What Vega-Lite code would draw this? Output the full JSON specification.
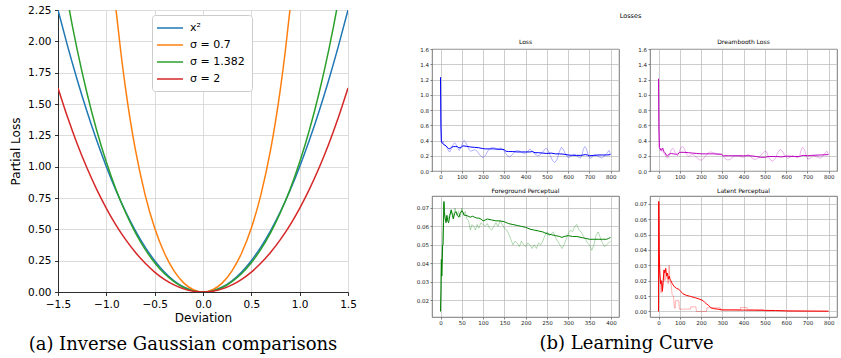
{
"$schema": "https://vega.github.io/schema/vega-lite/v6.json",
"padding": {"left": 9, "top": 5, "right": 0, "bottom": 0},
"spacing": 58,
"datasets": {
"curves": [
{"s":"x²","x":-1.5,"y":2.25},{"s":"x²","x":-1.4,"y":1.96},{"s":"x²","x":-1.3,"y":1.69},{"s":"x²","x":-1.2,"y":1.44},{"s":"x²","x":-1.1,"y":1.21},{"s":"x²","x":-1.0,"y":1.0},{"s":"x²","x":-0.9,"y":0.81},{"s":"x²","x":-0.8,"y":0.64},{"s":"x²","x":-0.7,"y":0.49},{"s":"x²","x":-0.6,"y":0.36},{"s":"x²","x":-0.5,"y":0.25},{"s":"x²","x":-0.4,"y":0.16},{"s":"x²","x":-0.3,"y":0.09},{"s":"x²","x":-0.2,"y":0.04},{"s":"x²","x":-0.1,"y":0.01},{"s":"x²","x":0,"y":0},
{"s":"x²","x":0.1,"y":0.01},{"s":"x²","x":0.2,"y":0.04},{"s":"x²","x":0.3,"y":0.09},{"s":"x²","x":0.4,"y":0.16},{"s":"x²","x":0.5,"y":0.25},{"s":"x²","x":0.6,"y":0.36},{"s":"x²","x":0.7,"y":0.49},{"s":"x²","x":0.8,"y":0.64},{"s":"x²","x":0.9,"y":0.81},{"s":"x²","x":1.0,"y":1.0},{"s":"x²","x":1.1,"y":1.21},{"s":"x²","x":1.2,"y":1.44},{"s":"x²","x":1.3,"y":1.69},{"s":"x²","x":1.4,"y":1.96},{"s":"x²","x":1.5,"y":2.25},
{"s":"σ = 0.7","x":-0.95,"y":2.652},{"s":"σ = 0.7","x":-0.9,"y":2.255},{"s":"σ = 0.7","x":-0.85,"y":1.913},{"s":"σ = 0.7","x":-0.8,"y":1.617},{"s":"σ = 0.7","x":-0.75,"y":1.36},{"s":"σ = 0.7","x":-0.7,"y":1.138},{"s":"σ = 0.7","x":-0.6,"y":0.779},{"s":"σ = 0.7","x":-0.5,"y":0.51},{"s":"σ = 0.7","x":-0.4,"y":0.311},{"s":"σ = 0.7","x":-0.3,"y":0.169},{"s":"σ = 0.7","x":-0.2,"y":0.073},{"s":"σ = 0.7","x":-0.1,"y":0.018},{"s":"σ = 0.7","x":0,"y":0},
{"s":"σ = 0.7","x":0.1,"y":0.018},{"s":"σ = 0.7","x":0.2,"y":0.073},{"s":"σ = 0.7","x":0.3,"y":0.169},{"s":"σ = 0.7","x":0.4,"y":0.311},{"s":"σ = 0.7","x":0.5,"y":0.51},{"s":"σ = 0.7","x":0.6,"y":0.779},{"s":"σ = 0.7","x":0.7,"y":1.138},{"s":"σ = 0.7","x":0.75,"y":1.36},{"s":"σ = 0.7","x":0.8,"y":1.617},{"s":"σ = 0.7","x":0.85,"y":1.913},{"s":"σ = 0.7","x":0.9,"y":2.255},{"s":"σ = 0.7","x":0.95,"y":2.652},
{"s":"σ = 1.382","x":-1.45,"y":2.543},{"s":"σ = 1.382","x":-1.4,"y":2.323},{"s":"σ = 1.382","x":-1.35,"y":2.118},{"s":"σ = 1.382","x":-1.3,"y":1.928},{"s":"σ = 1.382","x":-1.2,"y":1.586},{"s":"σ = 1.382","x":-1.1,"y":1.291},{"s":"σ = 1.382","x":-1.0,"y":1.037},{"s":"σ = 1.382","x":-0.9,"y":0.818},{"s":"σ = 1.382","x":-0.8,"y":0.632},{"s":"σ = 1.382","x":-0.7,"y":0.474},{"s":"σ = 1.382","x":-0.6,"y":0.342},{"s":"σ = 1.382","x":-0.5,"y":0.234},{"s":"σ = 1.382","x":-0.4,"y":0.148},{"s":"σ = 1.382","x":-0.3,"y":0.083},{"s":"σ = 1.382","x":-0.2,"y":0.036},{"s":"σ = 1.382","x":-0.1,"y":0.009},{"s":"σ = 1.382","x":0,"y":0},
{"s":"σ = 1.382","x":0.1,"y":0.009},{"s":"σ = 1.382","x":0.2,"y":0.036},{"s":"σ = 1.382","x":0.3,"y":0.083},{"s":"σ = 1.382","x":0.4,"y":0.148},{"s":"σ = 1.382","x":0.5,"y":0.234},{"s":"σ = 1.382","x":0.6,"y":0.342},{"s":"σ = 1.382","x":0.7,"y":0.474},{"s":"σ = 1.382","x":0.8,"y":0.632},{"s":"σ = 1.382","x":0.9,"y":0.818},{"s":"σ = 1.382","x":1.0,"y":1.037},{"s":"σ = 1.382","x":1.1,"y":1.291},{"s":"σ = 1.382","x":1.2,"y":1.586},{"s":"σ = 1.382","x":1.3,"y":1.928},{"s":"σ = 1.382","x":1.35,"y":2.118},{"s":"σ = 1.382","x":1.4,"y":2.323},{"s":"σ = 1.382","x":1.45,"y":2.543},
{"s":"σ = 2","x":-1.5,"y":1.628},{"s":"σ = 2","x":-1.4,"y":1.392},{"s":"σ = 2","x":-1.3,"y":1.179},{"s":"σ = 2","x":-1.2,"y":0.989},{"s":"σ = 2","x":-1.1,"y":0.819},{"s":"σ = 2","x":-1.0,"y":0.668},{"s":"σ = 2","x":-0.9,"y":0.534},{"s":"σ = 2","x":-0.8,"y":0.418},{"s":"σ = 2","x":-0.7,"y":0.317},{"s":"σ = 2","x":-0.6,"y":0.231},{"s":"σ = 2","x":-0.5,"y":0.159},{"s":"σ = 2","x":-0.4,"y":0.101},{"s":"σ = 2","x":-0.3,"y":0.057},{"s":"σ = 2","x":-0.2,"y":0.025},{"s":"σ = 2","x":-0.1,"y":0.006},{"s":"σ = 2","x":0,"y":0},
{"s":"σ = 2","x":0.1,"y":0.006},{"s":"σ = 2","x":0.2,"y":0.025},{"s":"σ = 2","x":0.3,"y":0.057},{"s":"σ = 2","x":0.4,"y":0.101},{"s":"σ = 2","x":0.5,"y":0.159},{"s":"σ = 2","x":0.6,"y":0.231},{"s":"σ = 2","x":0.7,"y":0.317},{"s":"σ = 2","x":0.8,"y":0.418},{"s":"σ = 2","x":0.9,"y":0.534},{"s":"σ = 2","x":1.0,"y":0.668},{"s":"σ = 2","x":1.1,"y":0.819},{"s":"σ = 2","x":1.2,"y":0.989},{"s":"σ = 2","x":1.3,"y":1.179},{"s":"σ = 2","x":1.4,"y":1.392},{"s":"σ = 2","x":1.5,"y":1.628}
],
"lossR": [{"x":0,"y":1.23},{"x":2,"y":0.62},{"x":4,"y":0.4},{"x":8,"y":0.37},{"x":12,"y":0.39},{"x":16,"y":0.35},{"x":22,"y":0.33},{"x":30,"y":0.31},{"x":38,"y":0.26},{"x":44,"y":0.25},{"x":52,"y":0.3},{"x":60,"y":0.35},{"x":66,"y":0.37},{"x":72,"y":0.35},{"x":80,"y":0.3},{"x":88,"y":0.27},{"x":96,"y":0.31},{"x":104,"y":0.37},{"x":110,"y":0.4},{"x":118,"y":0.38},{"x":126,"y":0.33},{"x":134,"y":0.28},{"x":142,"y":0.26},{"x":152,"y":0.27},{"x":162,"y":0.28},{"x":172,"y":0.26},{"x":182,"y":0.22},{"x":192,"y":0.19},{"x":200,"y":0.175},{"x":210,"y":0.2},{"x":222,"y":0.26},{"x":234,"y":0.3},{"x":246,"y":0.31},{"x":258,"y":0.3},{"x":270,"y":0.29},{"x":282,"y":0.3},{"x":294,"y":0.28},{"x":304,"y":0.24},{"x":314,"y":0.2},{"x":325,"y":0.185},{"x":336,"y":0.21},{"x":348,"y":0.25},{"x":360,"y":0.27},{"x":372,"y":0.26},{"x":384,"y":0.24},{"x":396,"y":0.23},{"x":408,"y":0.25},{"x":420,"y":0.29},{"x":432,"y":0.26},{"x":444,"y":0.22},{"x":456,"y":0.2},{"x":468,"y":0.21},{"x":478,"y":0.24},{"x":488,"y":0.28},{"x":497,"y":0.3},{"x":506,"y":0.27},{"x":516,"y":0.2},{"x":526,"y":0.14},{"x":537,"y":0.11},{"x":548,"y":0.15},{"x":558,"y":0.25},{"x":568,"y":0.31},{"x":578,"y":0.28},{"x":588,"y":0.22},{"x":600,"y":0.175},{"x":612,"y":0.19},{"x":624,"y":0.22},{"x":636,"y":0.21},{"x":648,"y":0.18},{"x":658,"y":0.17},{"x":666,"y":0.22},{"x":672,"y":0.29},{"x":678,"y":0.32},{"x":686,"y":0.29},{"x":694,"y":0.21},{"x":702,"y":0.167},{"x":712,"y":0.18},{"x":724,"y":0.21},{"x":736,"y":0.2},{"x":748,"y":0.18},{"x":760,"y":0.17},{"x":772,"y":0.2},{"x":784,"y":0.24},{"x":792,"y":0.27},{"x":799,"y":0.22}],
"lossS": [{"x":0,"y":1.23},{"x":2,"y":0.6},{"x":4,"y":0.39},{"x":6,"y":0.37},{"x":10,"y":0.36},{"x":14,"y":0.35},{"x":20,"y":0.34},{"x":26,"y":0.33},{"x":32,"y":0.31},{"x":38,"y":0.295},{"x":44,"y":0.29},{"x":50,"y":0.31},{"x":60,"y":0.32},{"x":70,"y":0.32},{"x":80,"y":0.32},{"x":86,"y":0.305},{"x":96,"y":0.305},{"x":104,"y":0.33},{"x":120,"y":0.325},{"x":140,"y":0.315},{"x":160,"y":0.31},{"x":180,"y":0.305},{"x":196,"y":0.295},{"x":210,"y":0.29},{"x":230,"y":0.29},{"x":250,"y":0.29},{"x":270,"y":0.285},{"x":290,"y":0.285},{"x":300,"y":0.28},{"x":306,"y":0.26},{"x":320,"y":0.255},{"x":340,"y":0.255},{"x":360,"y":0.25},{"x":380,"y":0.25},{"x":400,"y":0.25},{"x":420,"y":0.25},{"x":432,"y":0.255},{"x":444,"y":0.24},{"x":460,"y":0.24},{"x":480,"y":0.235},{"x":500,"y":0.23},{"x":520,"y":0.235},{"x":540,"y":0.225},{"x":560,"y":0.225},{"x":580,"y":0.22},{"x":600,"y":0.21},{"x":620,"y":0.205},{"x":640,"y":0.205},{"x":660,"y":0.205},{"x":680,"y":0.215},{"x":690,"y":0.21},{"x":700,"y":0.2},{"x":720,"y":0.205},{"x":740,"y":0.21},{"x":760,"y":0.21},{"x":780,"y":0.21},{"x":799,"y":0.215}],
"dbR": [{"x":0,"y":1.21},{"x":2,"y":0.6},{"x":4,"y":0.31},{"x":8,"y":0.27},{"x":12,"y":0.3},{"x":16,"y":0.26},{"x":22,"y":0.24},{"x":30,"y":0.22},{"x":38,"y":0.18},{"x":44,"y":0.17},{"x":52,"y":0.22},{"x":60,"y":0.28},{"x":66,"y":0.3},{"x":72,"y":0.28},{"x":80,"y":0.23},{"x":90,"y":0.2},{"x":98,"y":0.26},{"x":106,"y":0.31},{"x":114,"y":0.32},{"x":122,"y":0.29},{"x":132,"y":0.22},{"x":142,"y":0.19},{"x":152,"y":0.21},{"x":162,"y":0.22},{"x":172,"y":0.2},{"x":182,"y":0.17},{"x":192,"y":0.15},{"x":200,"y":0.14},{"x":210,"y":0.16},{"x":222,"y":0.2},{"x":234,"y":0.24},{"x":246,"y":0.25},{"x":258,"y":0.24},{"x":270,"y":0.23},{"x":282,"y":0.23},{"x":294,"y":0.22},{"x":304,"y":0.19},{"x":314,"y":0.16},{"x":325,"y":0.145},{"x":336,"y":0.15},{"x":348,"y":0.18},{"x":360,"y":0.2},{"x":372,"y":0.2},{"x":384,"y":0.19},{"x":396,"y":0.18},{"x":408,"y":0.19},{"x":420,"y":0.22},{"x":432,"y":0.19},{"x":444,"y":0.16},{"x":456,"y":0.15},{"x":468,"y":0.17},{"x":478,"y":0.2},{"x":490,"y":0.23},{"x":500,"y":0.26},{"x":508,"y":0.25},{"x":518,"y":0.18},{"x":528,"y":0.14},{"x":537,"y":0.13},{"x":548,"y":0.16},{"x":560,"y":0.24},{"x":572,"y":0.285},{"x":582,"y":0.26},{"x":594,"y":0.2},{"x":606,"y":0.167},{"x":618,"y":0.18},{"x":630,"y":0.2},{"x":642,"y":0.19},{"x":654,"y":0.17},{"x":664,"y":0.2},{"x":672,"y":0.29},{"x":678,"y":0.31},{"x":686,"y":0.28},{"x":694,"y":0.2},{"x":702,"y":0.153},{"x":714,"y":0.17},{"x":726,"y":0.2},{"x":738,"y":0.19},{"x":750,"y":0.18},{"x":762,"y":0.17},{"x":774,"y":0.2},{"x":784,"y":0.24},{"x":791,"y":0.26},{"x":799,"y":0.22}],
"dbS": [{"x":0,"y":1.21},{"x":2,"y":0.55},{"x":4,"y":0.31},{"x":8,"y":0.29},{"x":12,"y":0.27},{"x":16,"y":0.28},{"x":20,"y":0.3},{"x":24,"y":0.26},{"x":30,"y":0.24},{"x":36,"y":0.21},{"x":42,"y":0.2},{"x":50,"y":0.22},{"x":60,"y":0.23},{"x":70,"y":0.225},{"x":80,"y":0.22},{"x":90,"y":0.22},{"x":100,"y":0.245},{"x":120,"y":0.245},{"x":140,"y":0.24},{"x":160,"y":0.235},{"x":180,"y":0.23},{"x":200,"y":0.225},{"x":220,"y":0.225},{"x":240,"y":0.225},{"x":260,"y":0.225},{"x":280,"y":0.22},{"x":295,"y":0.22},{"x":305,"y":0.2},{"x":330,"y":0.2},{"x":360,"y":0.2},{"x":400,"y":0.2},{"x":430,"y":0.2},{"x":460,"y":0.19},{"x":480,"y":0.18},{"x":500,"y":0.18},{"x":520,"y":0.19},{"x":550,"y":0.19},{"x":580,"y":0.185},{"x":600,"y":0.195},{"x":640,"y":0.19},{"x":660,"y":0.19},{"x":680,"y":0.205},{"x":700,"y":0.2},{"x":720,"y":0.205},{"x":760,"y":0.21},{"x":799,"y":0.215}],
"fgR": [{"x":0,"y":0.0138},{"x":2,"y":0.04},{"x":4,"y":0.05},{"x":6,"y":0.06},{"x":8,"y":0.072},{"x":10,"y":0.065},{"x":14,"y":0.063},{"x":18,"y":0.064},{"x":22,"y":0.067},{"x":26,"y":0.068},{"x":30,"y":0.065},{"x":34,"y":0.07},{"x":38,"y":0.066},{"x":42,"y":0.068},{"x":46,"y":0.065},{"x":50,"y":0.07},{"x":54,"y":0.066},{"x":58,"y":0.068},{"x":62,"y":0.064},{"x":66,"y":0.063},{"x":70,"y":0.058},{"x":74,"y":0.061},{"x":78,"y":0.06},{"x":82,"y":0.058},{"x":86,"y":0.061},{"x":90,"y":0.059},{"x":95,"y":0.062},{"x":100,"y":0.061},{"x":105,"y":0.06},{"x":110,"y":0.0615},{"x":115,"y":0.059},{"x":120,"y":0.058},{"x":125,"y":0.06},{"x":130,"y":0.062},{"x":135,"y":0.06},{"x":140,"y":0.063},{"x":145,"y":0.061},{"x":150,"y":0.059},{"x":155,"y":0.058},{"x":160,"y":0.056},{"x":165,"y":0.053},{"x":170,"y":0.05},{"x":175,"y":0.052},{"x":180,"y":0.051},{"x":185,"y":0.049},{"x":190,"y":0.052},{"x":195,"y":0.05},{"x":200,"y":0.049},{"x":205,"y":0.051},{"x":210,"y":0.05},{"x":215,"y":0.048},{"x":220,"y":0.05},{"x":225,"y":0.048},{"x":230,"y":0.051},{"x":235,"y":0.05},{"x":240,"y":0.052},{"x":245,"y":0.055},{"x":250,"y":0.057},{"x":255,"y":0.055},{"x":260,"y":0.056},{"x":265,"y":0.057},{"x":270,"y":0.054},{"x":275,"y":0.052},{"x":280,"y":0.05},{"x":285,"y":0.048},{"x":290,"y":0.05},{"x":295,"y":0.053},{"x":300,"y":0.056},{"x":305,"y":0.058},{"x":310,"y":0.057},{"x":315,"y":0.06},{"x":320,"y":0.061},{"x":325,"y":0.058},{"x":330,"y":0.057},{"x":335,"y":0.055},{"x":340,"y":0.053},{"x":345,"y":0.051},{"x":350,"y":0.05},{"x":355,"y":0.047},{"x":360,"y":0.05},{"x":365,"y":0.055},{"x":370,"y":0.057},{"x":375,"y":0.054},{"x":380,"y":0.051},{"x":385,"y":0.049},{"x":390,"y":0.05},{"x":395,"y":0.051},{"x":399,"y":0.052}],
"fgS": [{"x":0,"y":0.0138},{"x":1,"y":0.025},{"x":2,"y":0.042},{"x":3,"y":0.033},{"x":4,"y":0.04},{"x":5,"y":0.05},{"x":6,"y":0.05},{"x":7,"y":0.062},{"x":8,"y":0.0735},{"x":9,"y":0.068},{"x":11,"y":0.064},{"x":13,"y":0.062},{"x":15,"y":0.066},{"x":17,"y":0.063},{"x":19,"y":0.062},{"x":22,"y":0.066},{"x":25,"y":0.069},{"x":28,"y":0.066},{"x":30,"y":0.064},{"x":33,"y":0.067},{"x":36,"y":0.068},{"x":40,"y":0.066},{"x":43,"y":0.065},{"x":46,"y":0.067},{"x":50,"y":0.0685},{"x":53,"y":0.0675},{"x":56,"y":0.066},{"x":60,"y":0.066},{"x":65,"y":0.0655},{"x":70,"y":0.065},{"x":75,"y":0.0655},{"x":80,"y":0.065},{"x":85,"y":0.0645},{"x":90,"y":0.0645},{"x":95,"y":0.064},{"x":100,"y":0.063},{"x":105,"y":0.0635},{"x":110,"y":0.064},{"x":120,"y":0.0635},{"x":130,"y":0.063},{"x":140,"y":0.063},{"x":150,"y":0.0625},{"x":160,"y":0.0615},{"x":170,"y":0.061},{"x":180,"y":0.0605},{"x":190,"y":0.06},{"x":200,"y":0.0595},{"x":210,"y":0.0585},{"x":220,"y":0.058},{"x":230,"y":0.0575},{"x":240,"y":0.057},{"x":250,"y":0.056},{"x":260,"y":0.0555},{"x":270,"y":0.055},{"x":280,"y":0.0545},{"x":285,"y":0.054},{"x":290,"y":0.0545},{"x":300,"y":0.055},{"x":310,"y":0.0545},{"x":320,"y":0.0545},{"x":330,"y":0.054},{"x":340,"y":0.0535},{"x":350,"y":0.053},{"x":360,"y":0.053},{"x":370,"y":0.053},{"x":380,"y":0.053},{"x":390,"y":0.053},{"x":395,"y":0.0535},{"x":399,"y":0.054}],
"lpR": [{"x":0,"y":0},{"x":1,"y":0.0715},{"x":4,"y":0.035},{"x":8,"y":0.02},{"x":12,"y":0.012},{"x":16,"y":0.018},{"x":20,"y":0.015},{"x":26,"y":0.027},{"x":30,"y":0.02},{"x":36,"y":0.025},{"x":40,"y":0.022},{"x":46,"y":0.018},{"x":50,"y":0.03},{"x":54,"y":0.02},{"x":60,"y":0.017},{"x":64,"y":0.011},{"x":70,"y":0.01},{"x":74,"y":0.004},{"x":78,"y":0.002},{"x":80,"y":0.007},{"x":96,"y":0.007},{"x":98,"y":0.0015},{"x":150,"y":0.0015},{"x":152,"y":0.003},{"x":176,"y":0.003},{"x":178,"y":0},{"x":226,"y":0},{"x":228,"y":0.0024},{"x":290,"y":0.0024},{"x":292,"y":0.001},{"x":384,"y":0.001},{"x":386,"y":0.0026},{"x":415,"y":0.0026},{"x":417,"y":0.0012},{"x":494,"y":0.0012},{"x":496,"y":0.0004},{"x":600,"y":0.0004},{"x":602,"y":0},{"x":799,"y":0}],
"lpS": [{"x":0,"y":0},{"x":1,"y":0.0715},{"x":3,"y":0.04},{"x":6,"y":0.025},{"x":10,"y":0.018},{"x":14,"y":0.02},{"x":18,"y":0.013},{"x":22,"y":0.02},{"x":26,"y":0.027},{"x":30,"y":0.025},{"x":34,"y":0.028},{"x":38,"y":0.023},{"x":42,"y":0.025},{"x":46,"y":0.021},{"x":50,"y":0.023},{"x":54,"y":0.021},{"x":58,"y":0.02},{"x":65,"y":0.018},{"x":75,"y":0.016},{"x":85,"y":0.015},{"x":95,"y":0.0145},{"x":105,"y":0.013},{"x":115,"y":0.0115},{"x":130,"y":0.0105},{"x":150,"y":0.0098},{"x":170,"y":0.009},{"x":190,"y":0.0082},{"x":210,"y":0.007},{"x":218,"y":0.0058},{"x":225,"y":0.005},{"x":235,"y":0.004},{"x":245,"y":0.0025},{"x":260,"y":0.0018},{"x":280,"y":0.0015},{"x":300,"y":0.001},{"x":340,"y":0.001},{"x":400,"y":0.0009},{"x":450,"y":0.0008},{"x":500,"y":0.0007},{"x":550,"y":0.0006},{"x":600,"y":0.0004},{"x":700,"y":0.0003},{"x":799,"y":0.0002}]
},
"hconcat": [
{
"width": 290, "height": 282,
"view": {"stroke": null},
"title": {"text": "(a) Inverse Gaussian comparisons", "orient": "bottom", "font": "DejaVu Serif", "fontSize": 18, "fontWeight": "normal", "offset": 12, "anchor": "middle", "frame": "bounds", "color": "#000"},
"data": {"name": "curves"},
"mark": {"type": "line", "clip": true, "interpolate": "monotone", "strokeWidth": 1.5},
"encoding": {
"x": {"field": "x", "type": "quantitative", "scale": {"domain": [-1.5, 1.5], "nice": false, "zero": false},
"axis": {"values": [-1.5, -1, -0.5, 0, 0.5, 1, 1.5], "format": ".1f", "title": "Deviation", "labelFontSize": 10.5, "titleFontSize": 12, "titleFontWeight": "normal", "labelColor": "#000", "titleColor": "#000", "tickSize": 3.5, "tickColor": "#000", "tickWidth": 0.8, "domain": true, "domainColor": "#000", "domainWidth": 0.8, "labelPadding": 3.5, "titlePadding": 3, "grid": true, "gridColor": "#d3d3d3", "gridWidth": 0.8, "labelFlush": false, "labelOverlap": false}},
"y": {"field": "y", "type": "quantitative", "scale": {"domain": [0, 2.25], "nice": false, "zero": false},
"axis": {"values": [0, 0.25, 0.5, 0.75, 1, 1.25, 1.5, 1.75, 2, 2.25], "format": ".2f", "title": "Partial Loss", "labelFontSize": 10.5, "titleFontSize": 12, "titleFontWeight": "normal", "labelColor": "#000", "titleColor": "#000", "tickSize": 3.5, "tickColor": "#000", "tickWidth": 0.8, "domain": true, "domainColor": "#000", "domainWidth": 0.8, "labelPadding": 3.5, "titlePadding": 5, "grid": true, "gridColor": "#d3d3d3", "gridWidth": 0.8, "labelFlush": false, "labelOverlap": false}},
"color": {"field": "s", "type": "nominal", "sort": ["x²", "σ = 0.7", "σ = 1.382", "σ = 2"],
"scale": {"domain": ["x²", "σ = 0.7", "σ = 1.382", "σ = 2"], "range": ["#1f77b4", "#ff7f0e", "#2ca02c", "#d62728"]},
"legend": {"orient": "none", "legendX": 94, "legendY": 5, "title": null, "symbolType": "M-1.6,0H3.6", "symbolSize": 100, "symbolStrokeWidth": 1.5, "labelFontSize": 11, "labelColor": "#000", "labelOffset": 19, "rowPadding": 6, "padding": 7, "strokeColor": "#cccccc", "fillColor": "#ffffff", "cornerRadius": 3, "labelLimit": 200}}
}
},
{
"title": {"text": "(b) Learning Curve", "orient": "bottom", "font": "DejaVu Serif", "fontSize": 18, "fontWeight": "normal", "offset": 9, "anchor": "middle", "frame": "bounds", "color": "#000"},
"spacing": 17,
"vconcat": [
{
"width": 397, "height": 11,
"view": {"stroke": null},
"data": {"values": [{"t": "Losses"}]},
"mark": {"type": "text", "fontSize": 6.5, "color": "#000", "baseline": "middle", "align": "center"},
"encoding": {"text": {"field": "t", "type": "nominal"}}
},
{
"columns": 2,
"spacing": {"row": 6, "column": 13},
"concat": [
{
"width": 187, "height": 122,
"title": {"text": "Loss", "fontSize": 6, "offset": 2, "anchor": "middle", "fontWeight": "normal", "color": "#000"},
"encoding": {
"x": {"field": "x", "type": "quantitative", "scale": {"domain": [-40, 839], "nice": false, "zero": false}, "axis": {"values": [0, 100, 200, 300, 400, 500, 600, 700, 800], "title": null, "labelOverlap": false}},
"y": {"field": "y", "type": "quantitative", "scale": {"domain": [0, 1.6], "nice": false}, "axis": {"values": [0, 0.2, 0.4, 0.6, 0.8, 1.0, 1.2, 1.4, 1.6], "format": ".1f", "title": null, "labelOverlap": false}}},
"layer": [
{"data": {"name": "lossR"}, "mark": {"type": "line", "color": "#0000ff", "opacity": 0.3, "strokeWidth": 1}},
{"data": {"name": "lossS"}, "mark": {"type": "line", "color": "#0000ff", "strokeWidth": 1}}
]
},
{
"width": 187, "height": 122,
"title": {"text": "Dreambooth Loss", "fontSize": 6, "offset": 2, "anchor": "middle", "fontWeight": "normal", "color": "#000"},
"encoding": {
"x": {"field": "x", "type": "quantitative", "scale": {"domain": [-40, 839], "nice": false, "zero": false}, "axis": {"values": [0, 100, 200, 300, 400, 500, 600, 700, 800], "title": null, "labelOverlap": false}},
"y": {"field": "y", "type": "quantitative", "scale": {"domain": [0, 1.6], "nice": false}, "axis": {"values": [0, 0.2, 0.4, 0.6, 0.8, 1.0, 1.2, 1.4, 1.6], "format": ".1f", "title": null, "labelOverlap": false}}},
"layer": [
{"data": {"name": "dbR"}, "mark": {"type": "line", "color": "#bf00bf", "opacity": 0.3, "strokeWidth": 1}},
{"data": {"name": "dbS"}, "mark": {"type": "line", "color": "#bf00bf", "strokeWidth": 1}}
]
},
{
"width": 187, "height": 121,
"title": {"text": "Foreground Perceptual", "fontSize": 6, "offset": 2, "anchor": "middle", "fontWeight": "normal", "color": "#000"},
"encoding": {
"x": {"field": "x", "type": "quantitative", "scale": {"domain": [-20, 419], "nice": false, "zero": false}, "axis": {"values": [0, 50, 100, 150, 200, 250, 300, 350, 400], "title": null, "labelOverlap": false}},
"y": {"field": "y", "type": "quantitative", "scale": {"domain": [0.0108, 0.0765], "nice": false, "zero": false}, "axis": {"values": [0.02, 0.03, 0.04, 0.05, 0.06, 0.07], "format": ".2f", "title": null, "labelOverlap": false}}},
"layer": [
{"data": {"name": "fgR"}, "mark": {"type": "line", "color": "#008000", "opacity": 0.3, "strokeWidth": 1}},
{"data": {"name": "fgS"}, "mark": {"type": "line", "color": "#008000", "strokeWidth": 1}}
]
},
{
"width": 187, "height": 121,
"title": {"text": "Latent Perceptual", "fontSize": 6, "offset": 2, "anchor": "middle", "fontWeight": "normal", "color": "#000"},
"encoding": {
"x": {"field": "x", "type": "quantitative", "scale": {"domain": [-40, 839], "nice": false, "zero": false}, "axis": {"values": [0, 100, 200, 300, 400, 500, 600, 700, 800], "title": null, "labelOverlap": false}},
"y": {"field": "y", "type": "quantitative", "scale": {"domain": [-0.0036, 0.0751], "nice": false, "zero": false}, "axis": {"values": [0, 0.01, 0.02, 0.03, 0.04, 0.05, 0.06, 0.07], "format": ".2f", "title": null, "labelOverlap": false}}},
"layer": [
{"data": {"name": "lpR"}, "mark": {"type": "line", "color": "#ff0000", "opacity": 0.3, "strokeWidth": 1}},
{"data": {"name": "lpS"}, "mark": {"type": "line", "color": "#ff0000", "strokeWidth": 1}}
]
}
]
}
]
}
],
"config": {
"font": "DejaVu Sans",
"view": {"stroke": "#555555", "strokeWidth": 0.8},
"axis": {"labelFontSize": 5.5, "labelColor": "#222222", "tickSize": 2, "tickColor": "#333333", "tickWidth": 0.6, "labelPadding": 1.5, "domain": false, "grid": true, "gridColor": "#b8b8b8", "gridWidth": 0.7, "labelFlush": false, "labelOverlap": false},
"title": {"font": "DejaVu Sans"}
}
}
